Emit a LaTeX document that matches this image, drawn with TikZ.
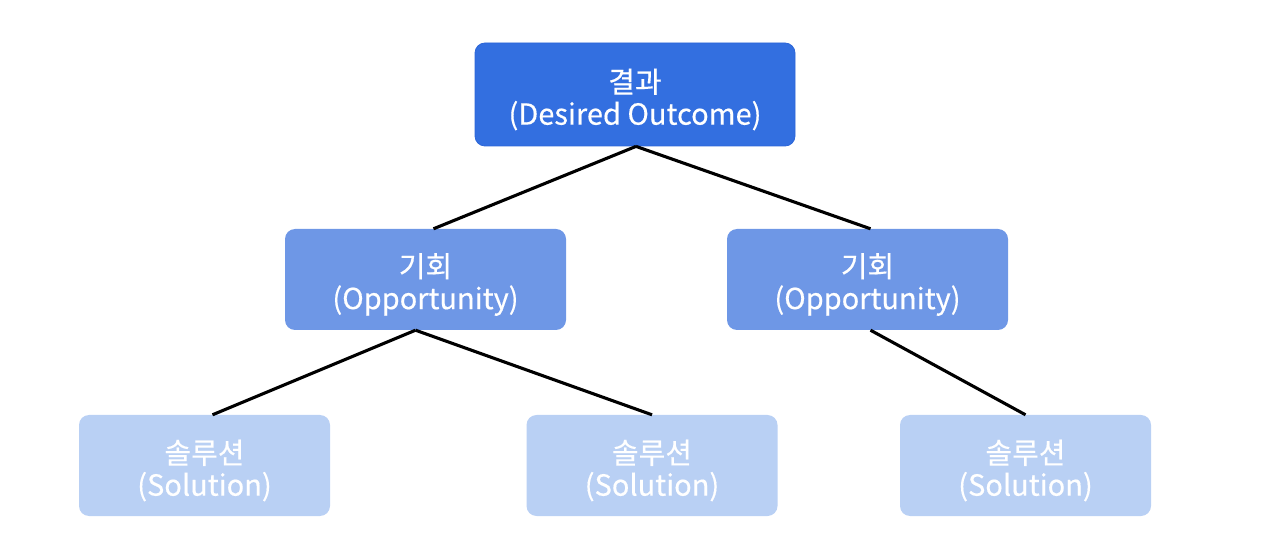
\documentclass[tikz,border=0pt]{standalone}
\usepackage{fontspec}
\setmainfont{Noto Sans CJK KR}[UprightFeatures={FakeBold=0.4}]
\definecolor{cTop}{HTML}{336FE0}
\definecolor{cTopB}{HTML}{2C66D8}
\definecolor{cMid}{HTML}{6E97E6}
\definecolor{cBot}{HTML}{B9D0F4}
\newcommand{\topline}[1]{\rule{0pt}{32pt}\raisebox{-2pt}{#1}}
\begin{document}
\begin{tikzpicture}[x=1pt,y=-1pt,
  box/.style={rounded corners=10pt, text=white, align=center, inner sep=0pt,
    font=\fontsize{29}{34}\selectfont},
  topbox/.style={box, fill=cTop, draw=cTopB, line width=0.8pt, minimum width=320pt, minimum height=103pt},
  midbox/.style={box, fill=cMid, minimum width=281pt, minimum height=101pt},
  botbox/.style={box, fill=cBot, minimum width=251pt, minimum height=101pt},
  link/.style={line width=3.1pt, black}]
\useasboundingbox (0,0) rectangle (1280,534);
\node[topbox] (top) at (635,94.5) {\topline{결과}\\(Desired Outcome)};
\node[midbox] (m1) at (425.5,279.5) {\topline{기회}\\(Opportunity)};
\node[midbox] (m2) at (867.5,279.5) {\topline{기회}\\(Opportunity)};
\node[botbox] (b1) at (204.5,465.5) {\topline{솔루션}\\(Solution)};
\node[botbox] (b2) at (652,465.5) {\topline{솔루션}\\(Solution)};
\node[botbox] (b3) at (1025.5,465.5) {\topline{솔루션}\\(Solution)};
\draw[link] ([xshift=1pt]top.south) -- ([xshift=8pt]m1.north);
\draw[link] ([xshift=1pt]top.south) -- ([xshift=3pt]m2.north);
\draw[link] ([xshift=-10pt]m1.south) -- ([xshift=8pt]b1.north);
\draw[link] ([xshift=-10pt]m1.south) -- (b2.north);
\draw[link] ([xshift=3pt]m2.south) -- (b3.north);
\end{tikzpicture}
\end{document}
